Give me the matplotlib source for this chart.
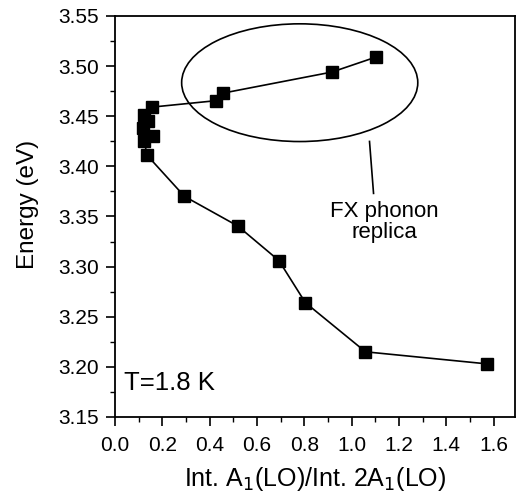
import matplotlib
matplotlib.use("Agg")
import matplotlib.pyplot as plt
from matplotlib.patches import Ellipse
from matplotlib.ticker import MultipleLocator, FormatStrFormatter

plt.rcParams['font.family'] = ['Liberation Sans', 'DejaVu Sans']

ratio = [1.104, 0.917, 0.457, 0.429, 0.155, 0.124, 0.140, 0.120, 0.162,
         0.124, 0.136, 0.294, 0.519, 0.693, 0.805, 1.059, 1.571]
energy = [3.509, 3.494, 3.473, 3.4655, 3.459, 3.451, 3.445, 3.438, 3.430,
          3.425, 3.411, 3.370, 3.3405, 3.306, 3.264, 3.215, 3.203]

fig = plt.figure(figsize=(5.2, 4.97), dpi=100)
ax = fig.add_axes([0.221, 0.161, 0.769, 0.807])

ax.plot(ratio, energy, '-', color='black', lw=1.2, marker='s', ms=8.5,
        mfc='black', mec='black')

ax.add_patch(Ellipse((0.781, 3.4834), 0.998, 0.1174, fill=False,
                     edgecolor='black', lw=1.2))
ax.plot([1.076, 1.093], [3.4248, 3.373], color='black', lw=1.2)

ax.text(1.14, 3.3445, 'FX phonon\nreplica', ha='center', va='center',
        fontsize=16, linespacing=1.05)
ax.text(0.04, 3.184, 'T=1.8 K', ha='left', va='center', fontsize=18.5)

ax.set_xlim(0, 1.69)
ax.set_ylim(3.15, 3.55)
ax.xaxis.set_major_locator(MultipleLocator(0.2))
ax.xaxis.set_minor_locator(MultipleLocator(0.1))
ax.yaxis.set_major_locator(MultipleLocator(0.05))
ax.yaxis.set_minor_locator(MultipleLocator(0.025))
ax.xaxis.set_major_formatter(FormatStrFormatter('%.1f'))
ax.yaxis.set_major_formatter(FormatStrFormatter('%.2f'))
ax.tick_params(which='major', direction='out', length=6.5, width=1.2,
               labelsize=15, top=False, right=False)
ax.tick_params(axis='x', which='major', pad=7.5)
ax.tick_params(axis='y', which='major', pad=5)
ax.tick_params(which='minor', direction='out', length=3.5, width=1.0,
               top=False, right=False)
for s in ax.spines.values():
    s.set_linewidth(1.3)

ax.set_xlabel('Int. A$_1$(LO)/Int. 2A$_1$(LO)', fontsize=18, labelpad=7)
ax.set_ylabel('Energy (eV)', fontsize=17.5)
ax.yaxis.set_label_coords(-0.19, 0.53)

fig.savefig('out.png', dpi=100)
